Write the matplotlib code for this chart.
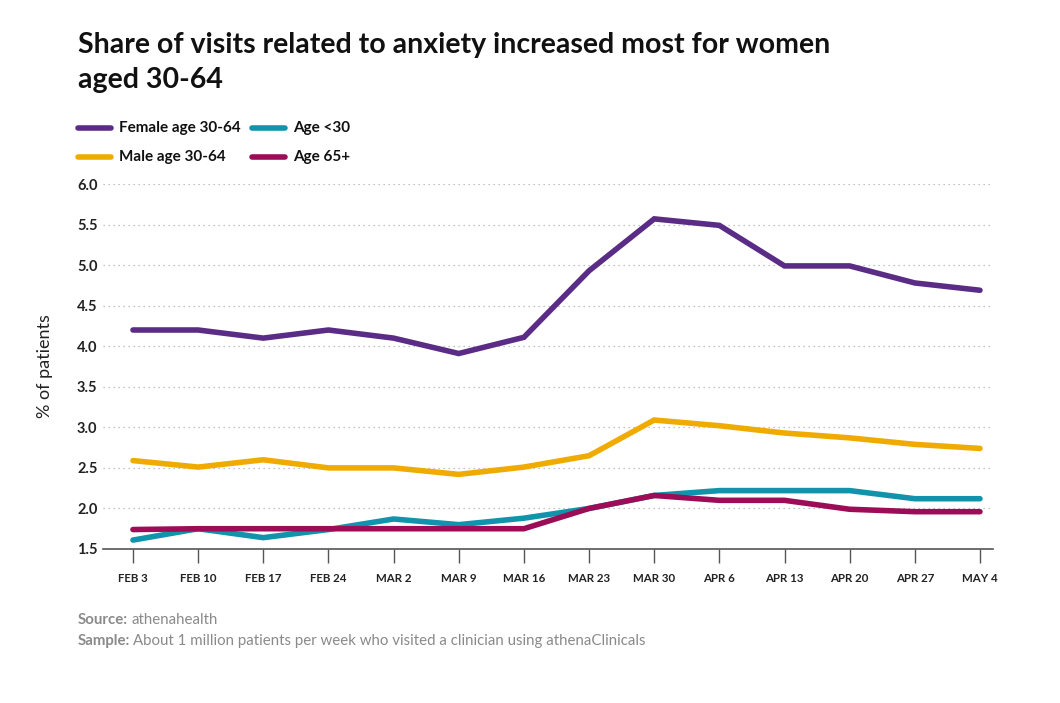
import matplotlib.pyplot as plt
from matplotlib.lines import Line2D

plt.rcParams['font.family'] = ['Lato', 'DejaVu Sans']

weeks = ['FEB 3', 'FEB 10', 'FEB 17', 'FEB 24', 'MAR 2', 'MAR 9', 'MAR 16',
         'MAR 23', 'MAR 30', 'APR 6', 'APR 13', 'APR 20', 'APR 27', 'MAY 4']
female_30_64 = [4.20, 4.20, 4.10, 4.20, 4.10, 3.91, 4.11, 4.93, 5.57, 5.49, 4.99, 4.99, 4.78, 4.69]
male_30_64 = [2.59, 2.51, 2.60, 2.50, 2.50, 2.42, 2.51, 2.65, 3.09, 3.02, 2.93, 2.87, 2.79, 2.74]
age_under_30 = [1.61, 1.75, 1.64, 1.74, 1.87, 1.80, 1.88, 2.00, 2.16, 2.22, 2.22, 2.22, 2.12, 2.12]
age_65_plus = [1.74, 1.75, 1.75, 1.75, 1.75, 1.75, 1.75, 2.00, 2.16, 2.10, 2.10, 1.99, 1.96, 1.96]

c_female = '#5B2C86'
c_male = '#F0AB00'
c_young = '#1193AC'
c_old = '#9C0C57'

fig = plt.figure(figsize=(10.6, 7.03), dpi=100)
ax = fig.add_axes([103/1060, 1-549/703, (993-103)/1060, (549-184)/703])

x = range(len(weeks))
ax.plot(x, age_under_30, color=c_young, lw=4, solid_capstyle='round', solid_joinstyle='miter')
ax.plot(x, age_65_plus, color=c_old, lw=4, solid_capstyle='round', solid_joinstyle='miter')
ax.plot(x, male_30_64, color=c_male, lw=4, solid_capstyle='round', solid_joinstyle='miter')
ax.plot(x, female_30_64, color=c_female, lw=4, solid_capstyle='round', solid_joinstyle='miter')

ax.set_ylim(1.5, 6.0)
ax.set_xlim(-0.46, 13.2)
yt = [1.5, 2.0, 2.5, 3.0, 3.5, 4.0, 4.5, 5.0, 5.5, 6.0]
ax.set_yticks(yt)
ax.set_yticklabels([f'{v:.1f}' for v in yt], fontsize=10.5, fontweight='bold', color='#222222')
ax.set_xticks(list(x))
ax.set_xticklabels(weeks, fontsize=8.3, fontweight='bold', color='#222222')
ax.tick_params(axis='y', length=0, pad=4)
ax.tick_params(axis='x', length=10, width=1, color='#555555', pad=7, direction='out')
for v in yt[1:]:
    ax.axhline(v, color='#b0b0b0', lw=0.9, ls=(0, (1, 3)), zorder=0)
for s in ['top', 'right', 'left']:
    ax.spines[s].set_visible(False)
ax.spines['bottom'].set_color('#555555')
ax.spines['bottom'].set_linewidth(1.2)
ax.set_ylabel('% of patients', fontsize=13, color='#222222', labelpad=17)

fig.text(78/1060, 1-45/703, 'Share of visits related to anxiety increased most for women',
         fontsize=20.5, fontweight='bold', color='#111111', va='center')
fig.text(78/1060, 1-80/703, 'aged 30-64', fontsize=20.5, fontweight='bold', color='#111111', va='center')

legend_items = [
    (78, 128, c_female, 'Female age 30-64'),
    (252, 128, c_young, 'Age <30'),
    (78, 157, c_male, 'Male age 30-64'),
    (252, 157, c_old, 'Age 65+'),
]
for lx, ly, col, lab in legend_items:
    fig.add_artist(Line2D([lx/1060, (lx+33)/1060], [1-ly/703, 1-ly/703], color=col, lw=4,
                          solid_capstyle='round', transform=fig.transFigure))
    fig.text((lx+41)/1060, 1-ly/703, lab, fontsize=11, fontweight='bold', color='#111111', va='center')

renderer = fig.canvas.get_renderer()
notes = [(620, 'Source:', 'athenahealth'),
         (641, 'Sample:', 'About 1 million patients per week who visited a clinician using athenaClinicals')]
for ny, bold, rest in notes:
    t = fig.text(78/1060, 1-ny/703, bold, fontsize=10.8, fontweight='bold', color='#8a8a8a', va='center')
    w = t.get_window_extent(renderer).width
    fig.text((78 + w + 3)/1060, 1-ny/703, rest, fontsize=10.8, color='#8a8a8a', va='center')

fig.savefig('out.png', dpi=100)
